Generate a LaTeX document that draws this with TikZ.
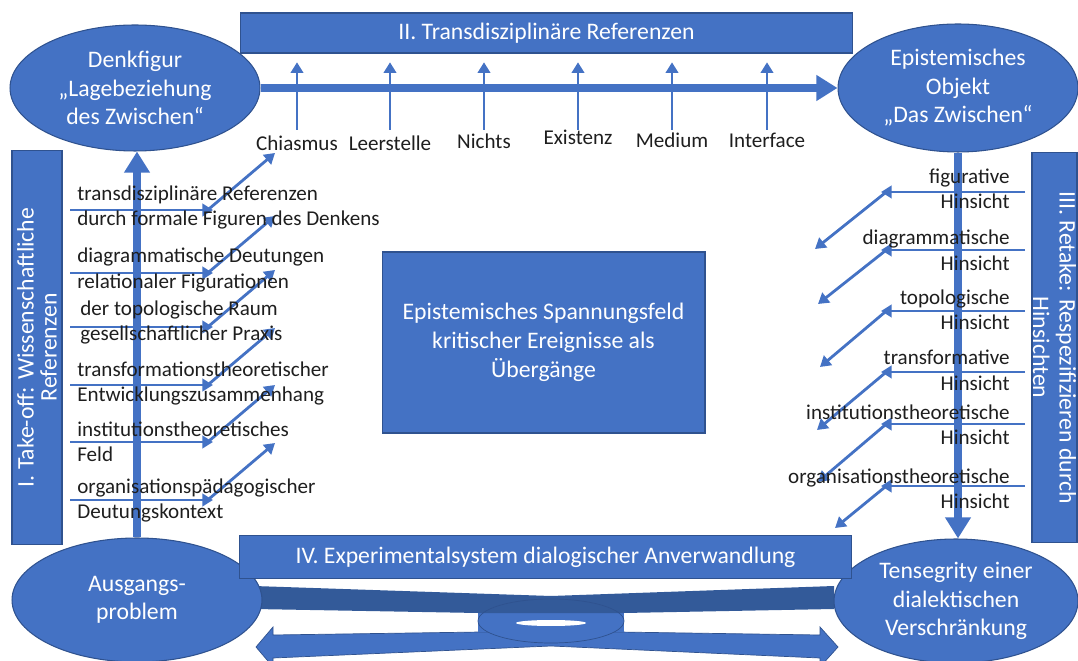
\documentclass[tikz,border=0pt]{standalone}
\usepackage{fontspec}
\setmainfont{Carlito}
\usetikzlibrary{arrows.meta, positioning, shapes.geometric}
\definecolor{boxblue}{HTML}{4472C4}
\definecolor{edgeblue}{HTML}{2F528F}
\definecolor{bandblue}{HTML}{335A99}
\definecolor{inkgray}{HTML}{1E1E1E}
\tikzstyle{pole} = [ellipse, draw=edgeblue, fill=boxblue, line width=0.6pt,
  text=white, align=center, inner sep=0pt, font=\fontsize{13.5}{16.2}\selectfont]
\tikzstyle{panel} = [rectangle, draw=edgeblue, fill=boxblue, line width=0.6pt,
  text=white, align=center, inner sep=0pt, font=\fontsize{13.5}{16}\selectfont]
\tikzstyle{term} = [text=inkgray, inner sep=0pt, font=\fontsize{12}{14.5}\selectfont]
\tikzstyle{bigarrow} = [draw=boxblue, line width=5pt, -{Triangle[length=12pt, width=14pt]}]
\tikzstyle{refarrow} = [draw=boxblue, line width=1.6pt, -{Triangle[length=6pt, width=7pt]}]

\begin{document}
\begin{tikzpicture}[x=0.02cm, y=-0.02cm]
    \useasboundingbox (0,0) rectangle (1078,661);
    \clip (0,0) rectangle (1078,661);

    % twisted ribbon at the bottom
    \filldraw[fill=boxblue, draw=edgeblue, line width=0.4pt] (256,647) -- (273,627) -- (273,635)
      -- (551,631) -- (820,635) -- (820,627) -- (838,647) -- (820,667) -- (820,658)
      -- (551,646) -- (273,658) -- (273,667) -- cycle;
    \fill[boxblue] (478,612) rectangle (624,632);
    \fill[boxblue] (551,621) ellipse [x radius=73, y radius=22];
    \fill[bandblue] (254,586) -- (551,596) -- (834,586) -- (834,609) -- (624,613)
      -- (478,613) -- (254,609) -- cycle;
    \draw[edgeblue, line width=0.4pt] (551,621) ellipse [x radius=73, y radius=22];
    \fill[white] (551,623) ellipse [x radius=35, y radius=3];

    \node[pole, minimum width=5cm, minimum height=2.52cm] (denk) at (135,88) {Denkfigur\\„Lagebeziehung\\des Zwischen“};
    \node[pole, minimum width=4.8cm, minimum height=2.56cm] (objekt) at (958,88) {Epistemisches\\Objekt\\„Das Zwischen“};
    \node[pole, minimum width=5cm, minimum height=2.48cm] (ausgang) at (137,600) {Ausgangs-\\problem};
    \node[pole, minimum width=4.88cm, minimum height=2.48cm] (tens) at (956,601) {Tensegrity einer\\dialektischen\\Verschränkung};

    \node[panel, minimum width=12.26cm, minimum height=0.8cm] (trans) at (546.5,33) {II. Transdisziplinäre Referenzen};
    \node[panel, minimum width=12.26cm, minimum height=0.87cm] (exper) at (545.5,557) {IV. Experimentalsystem dialogischer Anverwandlung};
    \node[panel, minimum width=6.46cm, minimum height=3.62cm, font=\fontsize{13.5}{16.5}\selectfont] (feld) at (543.5,342.5) {Epistemisches Spannungsfeld\\kritischer Ereignisse als\\Übergänge};
    \node[panel, rotate=90, minimum width=7.9cm, minimum height=1cm, font=\fontsize{13.5}{13}\selectfont] (takeoff) at (37,347.5) {I. Take-off: Wissenschaftliche\\Referenzen};
    \node[panel, rotate=-90, minimum width=7.82cm, minimum height=0.9cm, font=\fontsize{13.5}{15}\selectfont] (retake) at (1054.5,347.5) {III. Retake: Respezifizieren durch\\Hinsichten};

    \draw[bigarrow] (denk.east) -- (objekt.west);
    \draw[bigarrow] (ausgang.north) -- (ausgang.north |- denk.south);
    \draw[bigarrow] (objekt.south) -- (objekt.south |- tens.north);

    % figures of thought under the top bar
    \node[term] (chiasmus) at (297,143) {Chiasmus};
    \node[term] (leerstelle) at (390,143) {Leerstelle};
    \node[term] (nichts) at (484,141) {Nichts};
    \node[term] (existenz) at (578,137) {Existenz};
    \node[term] (medium) at (672,140) {Medium};
    \node[term] (interface) at (767,140) {Interface};
    \foreach \n in {chiasmus, leerstelle, nichts, existenz, medium, interface}
      \draw[refarrow, shorten >=5pt] (\n.north |- 0,130) -- (\n.north |- trans.south);

    % left hooks
    \foreach \y [count=\i] in {210,273,327,385,442,500} {
      \coordinate (lin\i) at (70,\y);
      \coordinate (lhub\i) at (213,\y);
      \coordinate (ltip\i) at (275,\y-57);
      \draw[refarrow] (lin\i) -- (lhub\i);
      \draw[refarrow] ([xshift=-3pt]lhub\i) -- (ltip\i);
    }
    % right hooks
    \foreach \y/\tx/\ty [count=\i] in {192/815/249, 250/818/304, 311/820/367, 372/817/430, 424/818/482, 486/835/528} {
      \coordinate (rin\i) at (1025,\y);
      \coordinate (rhub\i) at (881,\y);
      \coordinate (rtip\i) at (\tx,\ty);
      \draw[refarrow] (rin\i) -- (rhub\i);
      \draw[refarrow] ([xshift=3pt]rhub\i) -- (rtip\i);
    }

    \node[term, anchor=west, align=left] (lref1) at (77,207.5) {transdisziplinäre Referenzen\\durch formale Figuren des Denkens};
    \node[term, anchor=west, align=left] (lref2) at (77,270) {diagrammatische Deutungen\\relationaler Figurationen};
    \node[term, anchor=west, align=left] (lref3) at (80,322.5) {der topologische Raum\\gesellschaftlicher Praxis};
    \node[term, anchor=west, align=left] (lref4) at (77,383.5) {transformationstheoretischer\\Entwicklungszusammenhang};
    \node[term, anchor=west, align=left] (lref5) at (77,441.5) {institutionstheoretisches\\Feld};
    \node[term, anchor=west, align=left] (lref6) at (77,500.5) {organisationspädagogischer\\Deutungskontext};

    \node[term, anchor=east, align=right] (rref1) at (1010,189) {figurative\\Hinsicht};
    \node[term, anchor=east, align=right] (rref2) at (1010,250.5) {diagrammatische\\Hinsicht};
    \node[term, anchor=east, align=right] (rref3) at (1010,310) {topologische\\Hinsicht};
    \node[term, anchor=east, align=right] (rref4) at (1010,370.5) {transformative\\Hinsicht};
    \node[term, anchor=east, align=right] (rref5) at (1010,424.5) {institutionstheoretische\\Hinsicht};
    \node[term, anchor=east, align=right] (rref6) at (1010,489) {organisationstheoretische\\Hinsicht};
  \end{tikzpicture}
\end{document}
